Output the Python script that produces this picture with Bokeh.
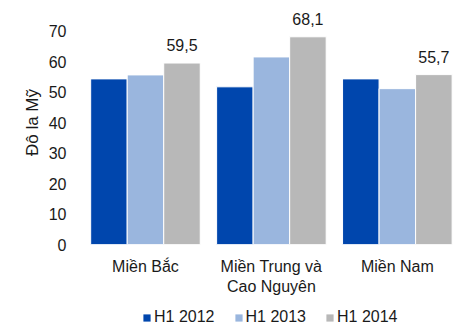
from bokeh.plotting import figure
from bokeh.models import ColumnDataSource, FixedTicker, Legend, LegendItem, LabelSet
from bokeh.layouts import column
from bokeh.core.properties import value
from bokeh.embed import file_html
from bokeh.resources import INLINE

regions = ["Miền Bắc", "Miền Trung và\nCao Nguyên", "Miền Nam"]
series = ["H1 2012", "H1 2013", "H1 2014"]
h1_2012 = [54.3, 51.7, 54.3]
h1_2013 = [55.6, 61.5, 51.1]
h1_2014 = [59.5, 68.1, 55.7]
labels_2014 = ["59,5", "68,1", "55,7"]
y_ticks = [0, 10, 20, 30, 40, 50, 60, 70]

colors = ["#0046AD", "#9AB6DE", "#B8B8B8"]
FONT = "Liberation Sans"
TXT = "#1a1a1a"

p = figure(width=453, height=304, output_backend="svg", toolbar_location=None,
           x_range=(-0.5, 2.446), y_range=(0, 80),
           min_border_left=82, min_border_right=0, min_border_top=0, min_border_bottom=60)
p.outline_line_color = None
p.grid.visible = False

xs = list(range(len(regions)))
w = 0.29
all_series = [h1_2012, h1_2013, h1_2014]
for i, (vals, c) in enumerate(zip(all_series, colors)):
    off = (i - 1) * w
    src = ColumnDataSource(dict(x=[x + off for x in xs], top=vals))
    p.vbar(x="x", top="top", width=w, source=src, fill_color=c,
           line_color="white", line_width=1)

lab_src = ColumnDataSource(dict(x=[x + w for x in xs], y=h1_2014, t=labels_2014))
p.add_layout(LabelSet(x="x", y="y", text="t", source=lab_src, text_align="center",
                      text_baseline="bottom", y_offset=12, text_font=value(FONT),
                      text_font_size=value("16px"), text_color=value(TXT)))

p.yaxis.ticker = FixedTicker(ticks=y_ticks)
p.yaxis.axis_line_color = None
p.yaxis.major_tick_line_color = None
p.yaxis.minor_tick_line_color = None
p.yaxis.major_label_standoff = 10
p.yaxis.major_label_text_font = FONT
p.yaxis.major_label_text_font_size = "16px"
p.yaxis.major_label_text_color = TXT
p.yaxis.axis_label = "Đô la Mỹ"
p.yaxis.axis_label_text_font = FONT
p.yaxis.axis_label_text_font_size = "17px"
p.yaxis.axis_label_text_font_style = "normal"
p.yaxis.axis_label_text_color = TXT
p.yaxis.axis_label_standoff = 4

p.xaxis.ticker = FixedTicker(ticks=xs)
p.xaxis.major_label_overrides = {x: r for x, r in zip(xs, regions)}
p.xaxis.axis_line_color = None
p.xaxis.major_tick_line_color = None
p.xaxis.minor_tick_line_color = None
p.xaxis.major_label_standoff = 7
p.xaxis.major_label_text_font = FONT
p.xaxis.major_label_text_font_size = "16px"
p.xaxis.major_label_text_color = TXT

# legend strip: hidden renderers that only feed the legend
q = figure(width=453, height=20, output_backend="svg", toolbar_location=None,
           x_range=(-0.5, 2.446), y_range=(-2, -1),
           x_axis_location=None, y_axis_location=None,
           min_border_left=82, min_border_right=0, min_border_top=0, min_border_bottom=0)
q.outline_line_color = None
q.grid.visible = False
leg_renderers = []
for vals, c in zip(all_series, colors):
    src = ColumnDataSource(dict(x=xs, top=vals))
    r = q.vbar(x="x", top="top", bottom="top", width=0.1, source=src,
               fill_color=c, line_color=None)
    r.visible = False
    leg_renderers.append(r)
legend = Legend(items=[LegendItem(label=s, renderers=[r]) for s, r in zip(series, leg_renderers)],
                orientation="horizontal", location=(60, -2), padding=0, margin=0,
                spacing=19, glyph_width=9, glyph_height=9, label_standoff=3,
                label_text_font=FONT, label_text_font_size="16px",
                label_text_color=TXT, border_line_color=None,
                background_fill_alpha=0, inactive_fill_alpha=0)
q.add_layout(legend, "center")

layout = column(p, q, spacing=0)
open("out.html", "w").write(file_html(layout, INLINE))
